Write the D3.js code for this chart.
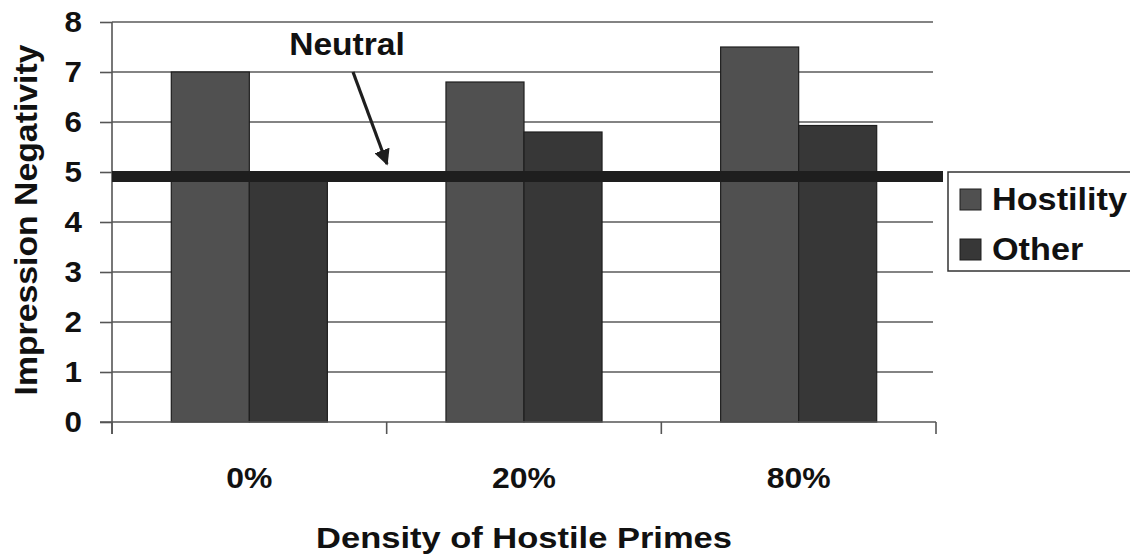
<!DOCTYPE html>
<html>
<head>
<meta charset="utf-8">
<script src="https://cdn.jsdelivr.net/npm/d3@7"></script>
<style>
  html, body { margin: 0; padding: 0; background: #fff; }
  svg { display: block; }
  text { font-family: "Liberation Sans", Arial, sans-serif; font-weight: bold; fill: #111; }
</style>
</head>
<body>
<svg id="chart" width="1130" height="556"></svg>
<script>
const categories = ["0%", "20%", "80%"];
const seriesNames = ["Hostility", "Other"];
const hostility = [7.0, 6.8, 7.5];
const other = [4.85, 5.8, 5.93];
const yTicks = [0, 1, 2, 3, 4, 5, 6, 7, 8];
const neutralValue = 4.91;
const colors = ["#505050", "#373737"];

const svg = d3.select("#chart");
const x0 = d3.scaleBand().domain(categories).range([112, 936]).paddingInner(0).paddingOuter(0);
const x1 = d3.scaleBand().domain(seriesNames).range([0, x0.bandwidth()]).paddingInner(0).paddingOuter(0.76);
const y = d3.scaleLinear().domain([0, 8]).range([422, 22]);

function label(parent, x, yy, txt, size, sx, anchor, rot) {
  return parent.append("text")
    .attr("transform", `translate(${x},${yy}) rotate(${rot || 0}) scale(${sx},1)`)
    .attr("text-anchor", anchor || "middle")
    .style("font-size", size + "px")
    .text(txt);
}

// gridlines
svg.append("g").selectAll("line").data(yTicks.filter(d => d > 0)).join("line")
  .attr("x1", 112).attr("x2", 933)
  .attr("y1", d => y(d)).attr("y2", d => y(d))
  .attr("stroke", "#5a5a5a").attr("stroke-width", 1.6);

// bars
const series = [hostility, other];
const g = svg.append("g");
categories.forEach((c, i) => {
  seriesNames.forEach((s, j) => {
    g.append("rect")
      .attr("x", x0(c) + x1(s))
      .attr("y", y(series[j][i]))
      .attr("width", x1.bandwidth())
      .attr("height", y(0) - y(series[j][i]))
      .attr("fill", colors[j])
      .attr("stroke", "#1e1e1e").attr("stroke-width", 1.2);
  });
});

// y axis
const yAxis = d3.axisLeft(y).tickValues(yTicks).tickSize(12).tickFormat("");
const ya = svg.append("g").attr("transform", "translate(112,0)").call(yAxis);
ya.select(".domain").remove();
ya.selectAll(".tick line").attr("stroke", "#555").attr("stroke-width", 1.6);
const yl = svg.append("g");
yTicks.forEach(t => label(yl, 82, y(t) + 10, d3.format("d")(t), 29, 1.08, "end"));
svg.append("line").attr("x1", 112).attr("x2", 112).attr("y1", 22).attr("y2", 434)
  .attr("stroke", "#555").attr("stroke-width", 1.6);

// x axis
const bounds = [...categories.map(c => x0(c)), x0(categories[categories.length - 1]) + x0.bandwidth()];
svg.append("line").attr("x1", 100).attr("x2", 936).attr("y1", 422).attr("y2", 422)
  .attr("stroke", "#555").attr("stroke-width", 1.6);
svg.append("g").selectAll("line").data(bounds).join("line")
  .attr("x1", d => d).attr("x2", d => d).attr("y1", 422).attr("y2", 434)
  .attr("stroke", "#555").attr("stroke-width", 1.6);
const xl = svg.append("g");
categories.forEach(c => label(xl, x0(c) + x0.bandwidth() / 2, 488, c, 29, 1.1, "middle"));

// neutral line
svg.append("line").attr("x1", 112).attr("x2", 943)
  .attr("y1", y(neutralValue)).attr("y2", y(neutralValue))
  .attr("stroke", "#1e1e1e").attr("stroke-width", 11);

// arrow
svg.append("defs").append("marker").attr("id", "ah")
  .attr("viewBox", "0 0 10 10").attr("refX", 9).attr("refY", 5)
  .attr("markerWidth", 5).attr("markerHeight", 5).attr("orient", "auto")
  .attr("markerUnits", "strokeWidth")
  .append("path").attr("d", "M0,0 L10,5 L0,10 z").attr("fill", "#1e1e1e");
svg.append("line").attr("x1", 353).attr("y1", 72).attr("x2", 387).attr("y2", 164)
  .attr("stroke", "#1e1e1e").attr("stroke-width", 3.2).attr("marker-end", "url(#ah)");
label(svg, 347, 55, "Neutral", 32, 1.05, "middle");

// axis titles
label(svg, 37, 220, "Impression Negativity", 31, 1.09, "middle", -90);
label(svg, 524, 548, "Density of Hostile Primes", 30, 1.15, "middle");

// legend
svg.append("rect").attr("x", 948).attr("y", 172).attr("width", 190).attr("height", 99)
  .attr("fill", "#fff").attr("stroke", "#333").attr("stroke-width", 1.5);
const lg = svg.append("g").selectAll("g").data(seriesNames).join("g")
  .attr("transform", (d, i) => `translate(960,${189 + i * 50})`);
lg.append("rect").attr("width", 21).attr("height", 21)
  .attr("fill", (d, i) => colors[i]).attr("stroke", "#1e1e1e").attr("stroke-width", 1);
lg.each(function(d) { label(d3.select(this), 32, 21, d, 32, 1.07, "start"); });
</script>
</body>
</html>
